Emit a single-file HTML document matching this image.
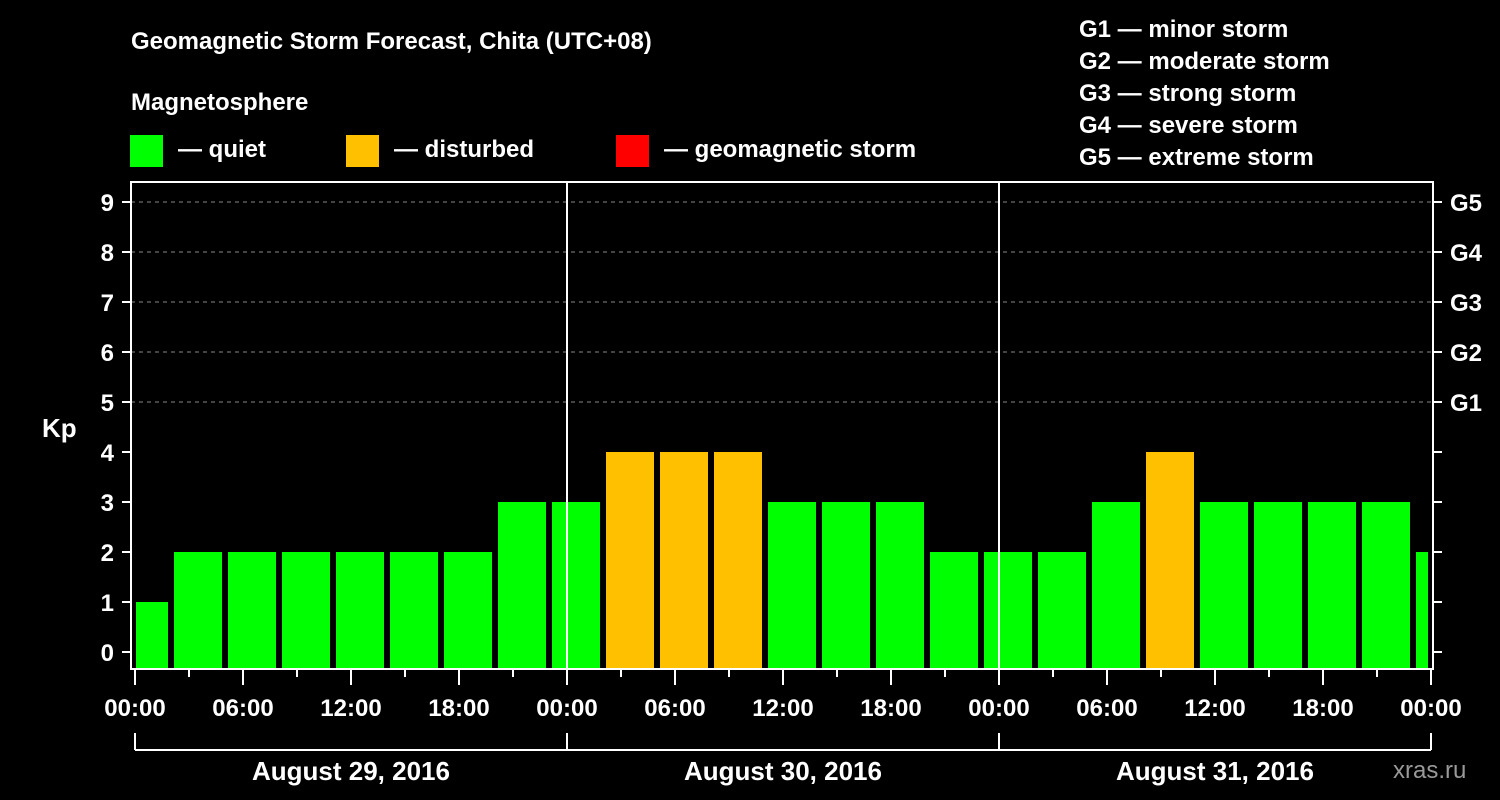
<!DOCTYPE html>
<html><head><meta charset="utf-8"><style>
html,body{margin:0;padding:0;background:#000;}
svg{display:block;font-family:"Liberation Sans",sans-serif;font-weight:bold;}
</style></head><body>
<svg id="chart" width="1500" height="800" viewBox="0 0 1500 800" xmlns="http://www.w3.org/2000/svg">
<rect width="1500" height="800" fill="#000"/>
<text x="131" y="49" fill="#fff" font-size="24">Geomagnetic Storm Forecast, Chita (UTC+08)</text>
<text x="131" y="110" fill="#fff" font-size="24">Magnetosphere</text>
<g><rect x="130" y="135" width="33" height="32" fill="#00ff00"/><text x="178" y="157" fill="#fff" font-size="24">— quiet</text></g>
<g><rect x="346" y="135" width="33" height="32" fill="#ffc000"/><text x="394" y="157" fill="#fff" font-size="24">— disturbed</text></g>
<g><rect x="616" y="135" width="33" height="32" fill="#ff0000"/><text x="664" y="157" fill="#fff" font-size="24">— geomagnetic storm</text></g>
<g fill="#fff" font-size="24">
<text x="1079" y="37">G1 — minor storm</text>
<text x="1079" y="69">G2 — moderate storm</text>
<text x="1079" y="101">G3 — strong storm</text>
<text x="1079" y="133">G4 — severe storm</text>
<text x="1079" y="165">G5 — extreme storm</text>
</g>
<text x="42" y="437" fill="#fff" font-size="26">Kp</text>
<g id="grid"></g><g id="bars"></g><g id="axes"></g>
<text x="1393" y="778" fill="#999" font-size="24" font-weight="normal">xras.ru</text>
</svg>
<script>
const kpValues = [1,2,2,2,2,2,2,3,3,4,4,4,3,3,3,2,2,2,3,4,3,3,3,3,2];
const firstBlockStartHour = -1; // bars are 3h blocks starting at 23:00 local (-1h) offset by 2h: see below
const dayLabels = ["August 29, 2016","August 30, 2016","August 31, 2016"];
const hourTickLabels = ["00:00","06:00","12:00","18:00"];
const yTicks = [0,1,2,3,4,5,6,7,8,9];
const gLabels = ["G1","G2","G3","G4","G5"];

const NS="http://www.w3.org/2000/svg";
const X0=135, PXH=18, TOTALH=72, PL=131, PR=1433, PT=182, PB=669;
const xs=h=>X0+h*PXH;
const ys=v=>652-v*50;
function el(t,a,p){const e=document.createElementNS(NS,t);for(const k in a)e.setAttribute(k,a[k]);p.appendChild(e);return e;}
const grid=document.getElementById('grid'),bars=document.getElementById('bars'),axes=document.getElementById('axes');
// grid lines
yTicks.forEach(v=>{if(v>=5){const l=el('line',{x1:PL,x2:PR,y1:ys(v),y2:ys(v),stroke:'#888','stroke-dasharray':'4,4','stroke-width':1},grid);

}});
// bars: first partial block 00-02, then 3h blocks starting 02:00
kpValues.forEach((v,i)=>{
  let h0 = i===0?0:2+(i-1)*3, h1=i===0?2:Math.min(h0+3,TOTALH);
  let x0=xs(h0)+(i===0?1:3), x1=xs(h1)-3;
  const r=el('rect',{x:x0,y:ys(v),width:x1-x0,height:668-ys(v),fill:v>=5?'#ff0000':(v>=4?'#ffc000':'#00ff00')},bars);
  
  
});
// plot frame
const fr=el('rect',{x:PL,y:PT,width:PR-PL,height:PB-PT,fill:'none',stroke:'#fff','stroke-width':2},axes);


// day separators
[1,2].forEach(d=>{const l=el('line',{x1:xs(d*24),x2:xs(d*24),y1:PT,y2:PB,stroke:'#fff','stroke-width':2},axes);

});
// y ticks
yTicks.forEach(v=>{
  el('line',{x1:122,x2:PL,y1:ys(v),y2:ys(v),stroke:'#fff','stroke-width':2},axes);
  el('line',{x1:PR,x2:1442,y1:ys(v),y2:ys(v),stroke:'#fff','stroke-width':2},axes);
  const t=el('text',{x:114,y:ys(v)+9,fill:'#fff','font-size':24,'text-anchor':'end'},axes);
  t.textContent=v;
  
  
  if(v>=5){const g=el('text',{x:1450,y:ys(v)+9,fill:'#fff','font-size':24},axes);
  g.textContent=gLabels[v-5];
  
  }
});
// x ticks
for(let h=0;h<=TOTALH;h+=3){
  const major=h%6===0;
  el('line',{x1:xs(h),x2:xs(h),y1:PB,y2:major?685:677,stroke:'#fff','stroke-width':2},axes);
  if(major){const t=el('text',{x:xs(h),y:716,fill:'#fff','font-size':24,'text-anchor':'middle'},axes);
  t.textContent=hourTickLabels[(h%24)/6];
  
  }
}
// day brackets
el('line',{x1:xs(0),x2:xs(TOTALH),y1:750,y2:750,stroke:'#fff','stroke-width':2},axes);
for(let d=0;d<=3;d++) el('line',{x1:xs(d*24),x2:xs(d*24),y1:733,y2:750,stroke:'#fff','stroke-width':2},axes);
dayLabels.forEach((s,d)=>{const t=el('text',{x:xs(d*24+12),y:780,fill:'#fff','font-size':26,'text-anchor':'middle'},axes);
t.textContent=s;

});
</script>
</body></html>
